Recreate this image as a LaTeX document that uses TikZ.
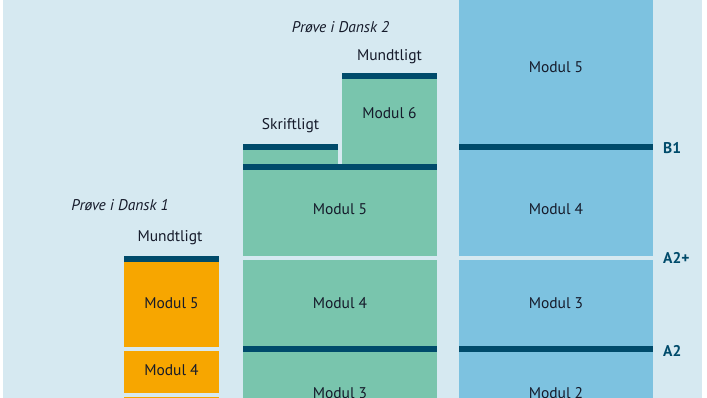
\documentclass[tikz,border=0pt]{standalone}
\usepackage{fontspec}
\setmainfont{PT Sans}
\usepackage{xcolor}
\definecolor{bgblue}{HTML}{D6E9F1}
\definecolor{colblue}{HTML}{7DC2E0}
\definecolor{colgreen}{HTML}{79C5AD}
\definecolor{colorange}{HTML}{F7A600}
\definecolor{bardark}{HTML}{004B6B}
\definecolor{txtdark}{HTML}{151A2A}
\usetikzlibrary{positioning}

\begin{document}
\begin{tikzpicture}[
  x=1pt, y=-1pt,
  modtxt/.style={font=\fontsize{15.5}{18}\selectfont, text=txtdark, inner sep=0pt},
  headtxt/.style={font=\fontsize{15.5}{18}\selectfont, text=txtdark, inner sep=0pt},
  examtxt/.style={font=\fontsize{15.5}{18}\selectfont\itshape, text=txtdark, inner sep=0pt},
  leveltxt/.style={font=\fontsize{15.5}{18}\selectfont\bfseries, text=bardark, inner sep=0pt, anchor=west},
]
\useasboundingbox (0,0) rectangle (707,398);
\clip (0,0) rectangle (707,398);
\fill[white] (0,0) rectangle (707,398);
\fill[bgblue] (3,0) rectangle (702,398);

% Proeve i Dansk 1 (orange)
\fill[bardark]   (124,256) rectangle (219,262);
\fill[colorange] (124,262) rectangle (219,347);
\fill[colorange] (124,351) rectangle (219,393);
\fill[colorange] (124,397) rectangle (219,405);
\node[examtxt] (pd1)  at (120,205) {Prøve i Dansk 1};
\node[headtxt] (mu1)  at (170,238) {Mundtligt};
\node[modtxt]  (o5)   at (171.5,303) {Modul 5};
\node[modtxt]  (o4)   at (171.5,370) {Modul 4};

% Proeve i Dansk 2 (green)
\fill[bardark]   (243,144) rectangle (338,150);
\fill[colgreen]  (243,150) rectangle (338,164);
\fill[bardark]   (342,73)  rectangle (437,79);
\fill[colgreen]  (342,79)  rectangle (437,164);
\fill[bardark]   (243,164) rectangle (437,170);
\fill[colgreen]  (243,170) rectangle (437,256);
\fill[colgreen]  (243,260) rectangle (437,346);
\fill[bardark]   (243,346) rectangle (437,352);
\fill[colgreen]  (243,352) rectangle (437,405);
\node[examtxt] (pd2)  at (340.5,27) {Prøve i Dansk 2};
\node[headtxt] (mu2)  at (389.5,57) {Mundtligt};
\node[headtxt] (sk2)  at (290.5,126) {Skriftligt};
\node[modtxt]  (g6)   at (389.5,113) {Modul 6};
\node[modtxt]  (g5)   at (340,209) {Modul 5};
\node[modtxt]  (g4)   at (340,303) {Modul 4};
\node[modtxt]  (g3)   at (340,393) {Modul 3};

% Levels (blue)
\fill[colblue]   (459,-5)  rectangle (653,144);
\fill[bardark]   (459,144) rectangle (653,150);
\fill[colblue]   (459,150) rectangle (653,256);
\fill[colblue]   (459,260) rectangle (653,346);
\fill[bardark]   (459,346) rectangle (653,352);
\fill[colblue]   (459,352) rectangle (653,405);
\node[modtxt]  (b5)   at (556,67)  {Modul 5};
\node[modtxt]  (b4)   at (556,209) {Modul 4};
\node[modtxt]  (b3)   at (556,303) {Modul 3};
\node[modtxt]  (b2)   at (556,393) {Modul 2};
\node[leveltxt] (lb1)  at (663,148) {B1};
\node[leveltxt] (la2p) at (663,258) {A2+};
\node[leveltxt] (la2)  at (663,351) {A2};
\end{tikzpicture}
\end{document}
